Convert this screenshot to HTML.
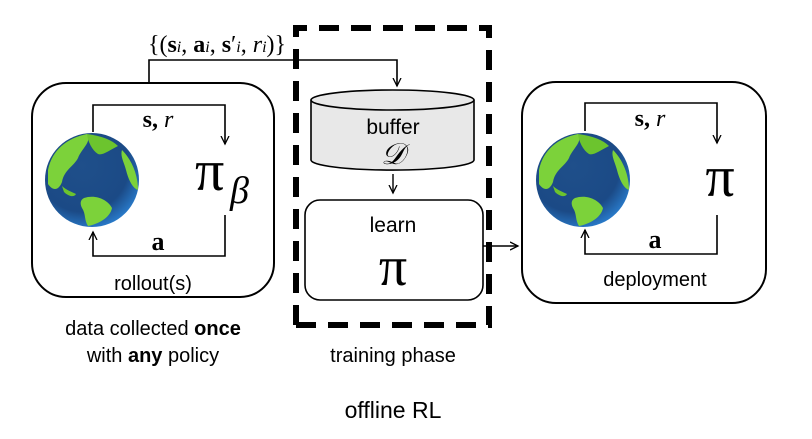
<!DOCTYPE html>
<html><head><meta charset="utf-8"><style>
body{margin:0;background:#fff;}
svg{display:block;}
text{font-family:"Liberation Sans",sans-serif;fill:#000;}
.m{font-family:"Liberation Serif",serif;}
</style></head><body>
<svg width="812" height="439" viewBox="0 0 812 439" xmlns="http://www.w3.org/2000/svg">
<defs>
<marker id="ar" markerWidth="10" markerHeight="10" refX="8" refY="5" orient="auto" markerUnits="userSpaceOnUse">
<path d="M0,1 L8,5 L0,9" fill="none" stroke="#000" stroke-width="1.3"/></marker>
<radialGradient id="ocean" cx="40%" cy="35%" r="70%"><stop offset="0" stop-color="#1f4f8a"/><stop offset="0.7" stop-color="#1b4a86"/><stop offset="1" stop-color="#2a7fd0"/></radialGradient>
<g id="globe">
<circle r="47" fill="url(#ocean)"/>
<path d="M-44,-10 C-40,-30 -25,-42 -5,-46 C0,-38 -10,-32 -14,-22 C-18,-14 -28,-10 -30,2 C-34,12 -40,10 -44,4 Z" fill="#7cd23a"/>
<path d="M-5,-46 C10,-44 20,-40 26,-34 C18,-30 10,-24 6,-26 C0,-30 -4,-38 -5,-46Z" fill="#6cc42e"/>
<path d="M30,-30 C40,-20 46,-5 46,10 C40,8 36,-2 34,-10 C32,-18 28,-24 30,-30Z" fill="#7cd23a"/>
<path d="M-8,18 C4,14 16,20 20,28 C18,38 6,44 -4,46 C-8,40 -6,34 -10,28 C-12,24 -12,20 -8,18Z" fill="#7cd23a"/>
<path d="M-30,6 C-26,10 -20,12 -16,14 C-18,18 -24,16 -28,12Z" fill="#6cc42e"/>
</g>
</defs>

<rect x="32" y="83" width="242" height="214" rx="34" fill="none" stroke="#000" stroke-width="2"/>
<use href="#globe" x="92" y="180"/>
<path d="M93,132 V105 H225 V144" fill="none" stroke="#000" stroke-width="1.6" marker-end="url(#ar)"/>
<path d="M225,215 V256 H93 V232" fill="none" stroke="#000" stroke-width="1.6" marker-end="url(#ar)"/>
<text x="158" y="127" class="m" font-size="24" font-weight="bold" text-anchor="middle">s, <tspan font-style="italic" font-weight="normal">r</tspan></text>
<text x="195" y="190" class="m" font-size="58">π</text>
<text x="230" y="203" class="m" font-size="38" font-style="italic">β</text>
<text x="158" y="250" class="m" font-size="26" font-weight="bold" text-anchor="middle">a</text>
<text x="153" y="290" font-size="20" text-anchor="middle">rollout(s)</text>

<path d="M149,83 V60 H397 V86" fill="none" stroke="#000" stroke-width="1.6" marker-end="url(#ar)"/>
<text x="217" y="52" class="m" font-size="24" text-anchor="middle">{(<tspan font-weight="bold">s</tspan><tspan font-size="16" font-style="italic">i</tspan>, <tspan font-weight="bold">a</tspan><tspan font-size="16" font-style="italic">i</tspan>, <tspan font-weight="bold">s</tspan>′<tspan font-size="16" font-style="italic">i</tspan>, <tspan font-style="italic">r</tspan><tspan font-size="16" font-style="italic">i</tspan>)}</text>

<path d="M296,325 V28 H489 V325 H296" fill="none" stroke="#000" stroke-width="6" stroke-dasharray="20,12"/>

<path d="M311,100 V160 A81,10 0 0 0 474,160 V100" fill="#e8e8e8" stroke="#000" stroke-width="1.6"/>
<ellipse cx="392.5" cy="100" rx="81.5" ry="10" fill="#e8e8e8" stroke="#000" stroke-width="1.6"/>
<text x="393" y="134" font-size="21" text-anchor="middle">buffer</text>
<text x="393" y="164" class="m" font-size="30" font-style="italic" text-anchor="middle">𝒟</text>
<path d="M393,174 V193" fill="none" stroke="#000" stroke-width="1.4" marker-end="url(#ar)"/>

<rect x="305" y="200" width="178" height="100" rx="15" fill="#fff" stroke="#000" stroke-width="1.6"/>
<text x="393" y="232" font-size="21" text-anchor="middle">learn</text>
<text x="393" y="285" class="m" font-size="56" text-anchor="middle">π</text>
<path d="M483,246 H518" fill="none" stroke="#000" stroke-width="1.6" marker-end="url(#ar)"/>

<rect x="522" y="82" width="244" height="221" rx="34" fill="none" stroke="#000" stroke-width="2"/>
<use href="#globe" x="583" y="180"/>
<path d="M585,131 V103 H717 V143" fill="none" stroke="#000" stroke-width="1.6" marker-end="url(#ar)"/>
<path d="M717,215 V254 H585 V230" fill="none" stroke="#000" stroke-width="1.6" marker-end="url(#ar)"/>
<text x="650" y="126" class="m" font-size="24" font-weight="bold" text-anchor="middle">s, <tspan font-style="italic" font-weight="normal">r</tspan></text>
<text x="720" y="196" class="m" font-size="58" text-anchor="middle">π</text>
<text x="655" y="248" class="m" font-size="26" font-weight="bold" text-anchor="middle">a</text>
<text x="655" y="286" font-size="20" text-anchor="middle">deployment</text>

<text x="153" y="335" font-size="20" text-anchor="middle">data collected <tspan font-weight="bold">once</tspan></text>
<text x="153" y="362" font-size="20" text-anchor="middle">with <tspan font-weight="bold">any</tspan> policy</text>
<text x="393" y="362" font-size="20" text-anchor="middle">training phase</text>
<text x="393" y="418" font-size="23" text-anchor="middle">offline RL</text>
</svg>
</body></html>
